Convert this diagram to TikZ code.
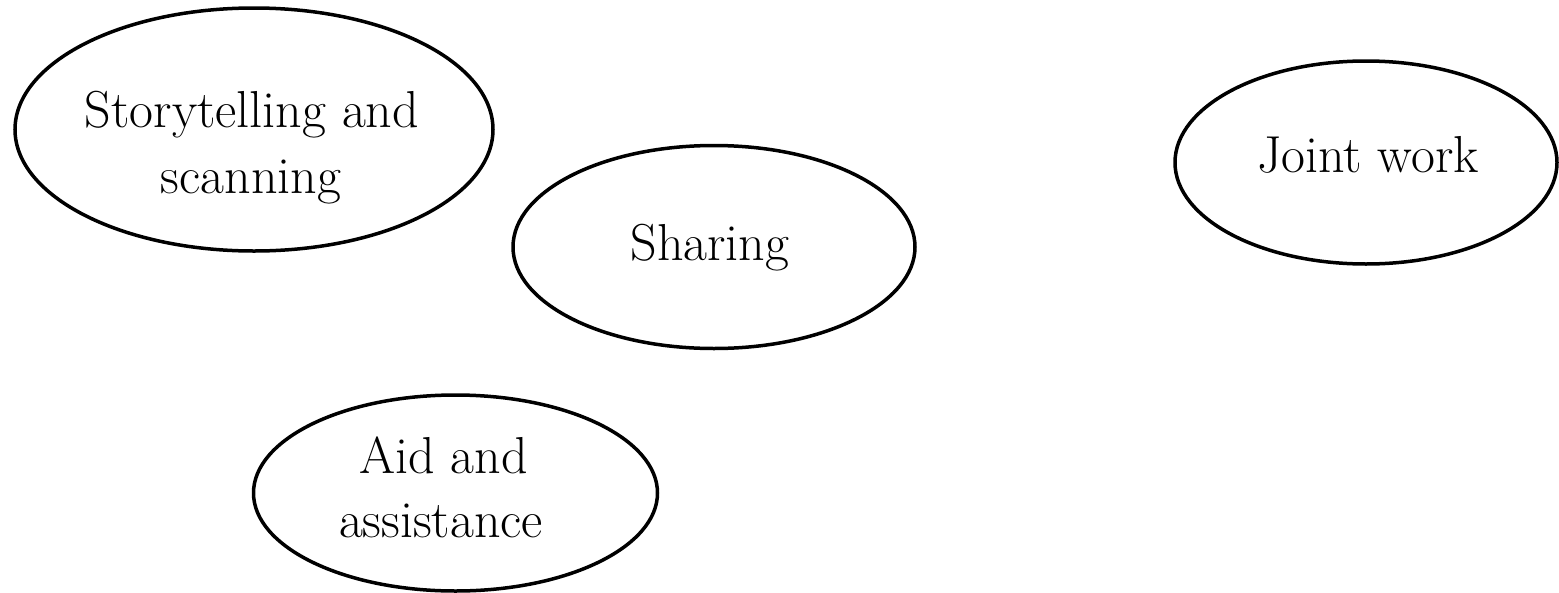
\documentclass[tikz,border=0pt]{standalone}
\usetikzlibrary{shapes.geometric}
\begin{document}
\begin{tikzpicture}[x=1pt,y=-1pt,
  oval/.style={ellipse,draw,line width=3.5pt,inner sep=0pt},
  lbl/.style={anchor=base,inner sep=0pt,font=\fontsize{52}{62}\selectfont}]
\useasboundingbox (0,0) rectangle (1559,592);
% ellipses
\node[oval,minimum width=478pt,minimum height=243pt] (story) at (254,129.5) {};
\node[oval,minimum width=402pt,minimum height=203pt] (share) at (714,247) {};
\node[oval,minimum width=382pt,minimum height=203pt] (joint) at (1366,162.5) {};
\node[oval,minimum width=404pt,minimum height=196pt] (aid) at (455.5,493) {};
% labels
\node[lbl] (storyA) at (252,127) {Storytelling and};
\node[lbl] (storyB) at (251,193) {scanning};
\node[lbl] (shareT) at (710,260) {Sharing};
\node[lbl] (jointT) at (1368,172) {Joint work};
\node[lbl] (aidA) at (443.5,473) {Aid and};
\node[lbl] (aidB) at (441,537) {assistance};
\end{tikzpicture}
\end{document}
